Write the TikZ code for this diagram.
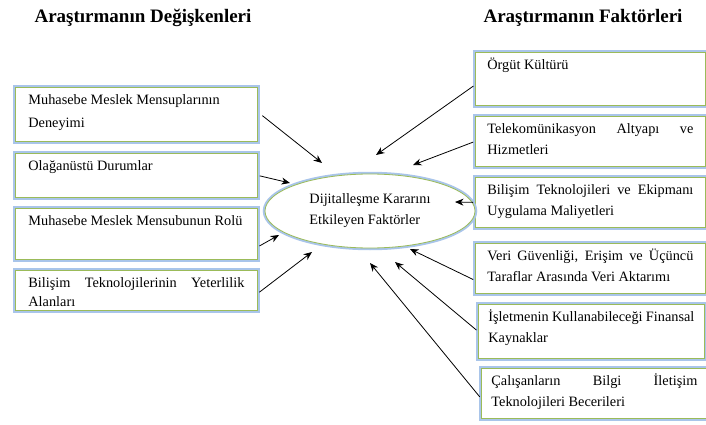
\documentclass[tikz,border=0pt]{standalone}
\usepackage{fontspec}
\setmainfont{Liberation Serif}
\usepackage{tikz}
\usetikzlibrary{calc,positioning,shapes,arrows.meta}
\definecolor{boxgreen}{HTML}{9BBB59}
\definecolor{glowblue}{HTML}{A9C5EA}
\newcommand{\lcell}[2]{\parbox[c][\dimexpr#1pt-6pt\relax][t]{216pt}{\hyphenpenalty=10000\rule{0pt}{14.5pt}#2}}
\newcommand{\rcell}[2]{\parbox[c][\dimexpr#1pt-6pt\relax][t]{206pt}{\hyphenpenalty=10000\rule{0pt}{14.5pt}#2}}
\tikzset{
  fbox/.style={draw=boxgreen, line width=0.8pt, fill=white,
    preaction={draw=glowblue, line width=4.5pt},
    inner xsep=13pt, inner ysep=3pt, anchor=north west,
    font=\fontsize{14.3}{21}\selectfont},
  oval/.style={ellipse, draw=boxgreen, line width=0.8pt, fill=white,
    preaction={draw=glowblue, line width=4.5pt},
    minimum width=210pt, minimum height=74pt, inner sep=0pt, align=left,
    font=\fontsize{14.3}{21}\selectfont},
  title/.style={font=\fontsize{19}{23}\selectfont\bfseries},
  conn/.style={-{Stealth[length=8.5pt,width=7pt]}, line width=0.8pt, shorten <=2pt}
}
\begin{document}
\begin{tikzpicture}[x=1pt,y=-1pt]
\useasboundingbox (0,0) rectangle (706,425);
\node[title] (tleft) at (143,18) {Araştırmanın Değişkenleri};
\node[title] (tright) at (583,18) {Araştırmanın Faktörleri};
% variables
\node[fbox] (b1) at (15,87) {\lcell{54}{Muhasebe Meslek Mensuplarının\\[2pt]Deneyimi}};
\node[fbox] (b2) at (15,153) {\lcell{44}{Olağanüstü Durumlar}};
\node[fbox] (b3) at (15,208) {\lcell{51}{Muhasebe Meslek Mensubunun Rolü}};
\node[fbox] (b4) at (15,270) {\lcell{40}{\fontsize{14.3}{19}\selectfont Bilişim Teknolojilerinin Yeterlilik\linebreak Alanları}};
% factors
\node[fbox, inner xsep=12pt] (r1) at (475,52) {\rcell{53}{Örgüt Kültürü}};
\node[fbox, inner xsep=12pt] (r2) at (475,116) {\rcell{50}{Telekomünikasyon Altyapı ve\linebreak Hizmetleri}};
\node[fbox, inner xsep=12pt] (r3) at (475,177) {\rcell{50}{Bilişim Teknolojileri ve Ekipmanı\linebreak Uygulama Maliyetleri}};
\node[fbox, inner xsep=12pt] (r4) at (475,243) {\rcell{50}{Veri Güvenliği, Erişim ve Üçüncü\linebreak Taraflar Arasında Veri Aktarımı}};
\node[fbox, inner xsep=10pt] (r5) at (478,304) {\rcell{54}{İşletmenin Kullanabileceği Finansal\\Kaynaklar}};
\node[fbox, inner xsep=10pt] (r6) at (481,368) {\rcell{50}{Çalışanların Bilgi İletişim\linebreak Teknolojileri Becerileri}};
% centre
\node[oval] (dk) at (370,211) {Dijitalleşme Kararını\\Etkileyen Faktörler};
\coordinate (t1) at (322,163);
\coordinate (t2) at (290,183);
\coordinate (t3) at (279,235);
\coordinate (t4) at (312,252);
\coordinate (u1) at (376,155);
\coordinate (u2) at (413,165);
\coordinate (u3) at (455,202);
\coordinate (u4) at (410,249);
\coordinate (u5) at (395,262);
\coordinate (u6) at (370,263);
\draw[conn] ($(b1.east)+(3,0)$) -- (t1);
\draw[conn] (b2.east) -- (t2);
\draw[conn] ($(b3.east)+(0,13)$) -- (t3);
\draw[conn] ($(b4.east)+(0,3)$) -- (t4);
\draw[conn] ($(r1.west)+(0,6)$) -- (u1);
\draw[conn] (r2.west) -- (u2);
\draw[conn] (r3.west) -- (u3);
\draw[conn] ($(r4.west)+(0,12)$) -- (u4);
\draw[conn] (r5.west) -- (u5);
\draw[conn] ($(r6.west)+(0,5)$) -- (u6);
\end{tikzpicture}
\end{document}
